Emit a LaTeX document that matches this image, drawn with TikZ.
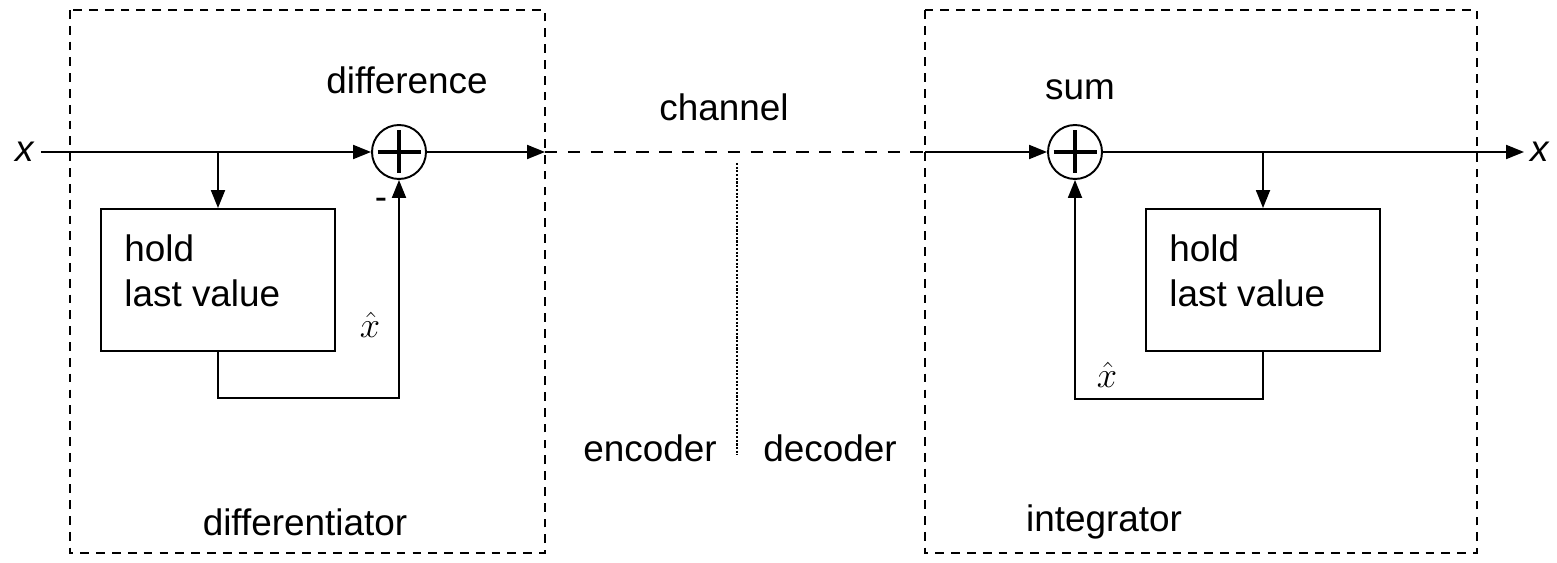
\documentclass[tikz,border=0pt]{standalone}
\usepackage{fontspec}
\setmainfont{Liberation Sans}
\usetikzlibrary{arrows.meta}
\begin{document}
\begin{tikzpicture}[x=0.02cm,y=-0.02cm,
	every node/.style={font=\fontsize{21}{25.5}\selectfont},
	sig/.style={line width=1.1pt},
	tip/.style={-{Triangle[length=0.36cm,width=0.28cm]}},
	frame/.style={line width=0.7pt, dash pattern=on 5pt off 4pt},
	chan/.style={line width=1.1pt, dash pattern=on 7pt off 6pt},
	adder/.style={circle, draw, line width=1.1pt, minimum size=1.08cm, inner sep=0pt},
	hold/.style={draw, line width=1.1pt, minimum width=4.68cm, minimum height=2.84cm},
	holdtext/.style={anchor=west, align=left, inner sep=0pt, xshift=0.48cm, yshift=0.18cm}]
	\useasboundingbox (0,0) rectangle (1557,563);
	% dashed frames
	\draw[frame] (70,10) rectangle (545,553);
	\draw[frame] (925,10) rectangle (1477,553);
	\draw[line width=0.6pt, dash pattern=on 1.2pt off 0.9pt] (737,163) -- (737,455);
	% encoder side
	\node (xin) at (25,152) {\textit{x}};
	\node[adder] (sumL) at (399,152) {};
	\draw[line width=1.9pt] (sumL.center) ++(-21.5,0) -- ++(43,0);
	\draw[line width=1.9pt] (sumL.center) ++(0,-21.5) -- ++(0,43);
	\node[hold] (holdL) at (218,280) {};
	\node[holdtext] (holdLtxt) at (holdL.west) {hold\\last value};
	\coordinate (brL) at (218,152);
	\coordinate (encout) at (545,152);
	\draw[sig,tip] (xin.east) -- (sumL.west);
	\draw[sig,tip] (brL) -- (holdL.north);
	\draw[sig,tip] (holdL.south) -- (218,398) -| (sumL.south);
	\draw[sig,tip] (sumL.east) -- (encout);
	\node (minus) at (381,204) {-};
	\node[inner sep=1pt] (xhatL) at (370,325) {$\hat{x}$};
	\node (diff) at (407,80) {difference};
	\node (differ) at (305,522) {differentiator};
	% channel
	\coordinate (decin) at (925,152);
	\draw[chan] (encout) -- (decin);
	\node (chanlab) at (724,107) {channel};
	\node (enc) at (650,448) {encoder};
	\node (dec) at (830,448) {decoder};
	% decoder side
	\node[adder] (sumR) at (1075,152) {};
	\draw[line width=1.9pt] (sumR.center) ++(-21.5,0) -- ++(43,0);
	\draw[line width=1.9pt] (sumR.center) ++(0,-21.5) -- ++(0,43);
	\node[hold] (holdR) at (1263,280) {};
	\node[holdtext] (holdRtxt) at (holdR.west) {hold\\last value};
	\node (xout) at (1540,152) {\textit{x}};
	\coordinate (brR) at (1263,152);
	\draw[sig,tip] (decin) -- (sumR.west);
	\draw[sig,tip] (sumR.east) -- (xout.west);
	\draw[sig,tip] (brR) -- (holdR.north);
	\draw[sig,tip] (holdR.south) -- (1263,399) -| (sumR.south);
	\node[inner sep=1pt] (xhatR) at (1107,375) {$\hat{x}$};
	\node (sumlab) at (1080,90) {sum};
	\node (integ) at (1104,522) {integrator};
\end{tikzpicture}
\end{document}
